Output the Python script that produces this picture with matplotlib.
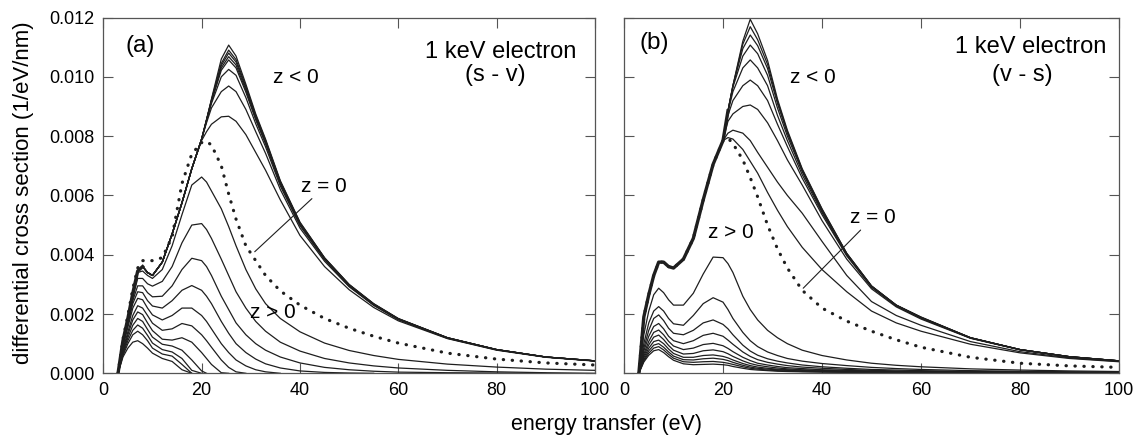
import numpy as np
import matplotlib
matplotlib.use('Agg')
import matplotlib.pyplot as plt
from matplotlib.ticker import FormatStrFormatter

plt.rcParams['font.family'] = ['Liberation Sans', 'DejaVu Sans']

# energy grid shared by all curves (eV)
energy_ev = [3, 4, 5, 6, 7, 8, 9, 10, 12, 14, 16, 18, 20, 21, 22, 24, 25.5,
             27, 29, 31, 33, 36, 40, 45, 50, 55, 60, 70, 80, 90, 100]

# cross sections below are in units of 1e-3 1/eV/nm
# (a) s - v, z < 0 family (top to bottom)
sv_z_neg = [
    [0, 1.1, 1.85, 2.7, 3.45, 3.6, 3.4, 3.3, 3.75, 4.7, 5.75, 6.9, 7.9, 8.55, 9.25, 10.6, 11.07, 10.7, 9.75, 8.75, 7.9, 6.5, 5.1, 3.9, 3.0, 2.35, 1.85, 1.2, 0.8, 0.55, 0.42],
    [0, 1.1, 1.85, 2.7, 3.45, 3.6, 3.4, 3.3, 3.75, 4.7, 5.75, 6.9, 7.9, 8.55, 9.22, 10.45, 10.9, 10.58, 9.68, 8.7, 7.86, 6.47, 5.08, 3.89, 2.99, 2.34, 1.84, 1.2, 0.8, 0.55, 0.42],
    [0, 1.1, 1.85, 2.7, 3.45, 3.6, 3.4, 3.3, 3.75, 4.7, 5.75, 6.9, 7.9, 8.55, 9.2, 10.38, 10.8, 10.5, 9.62, 8.66, 7.83, 6.45, 5.06, 3.88, 2.98, 2.33, 1.84, 1.2, 0.8, 0.55, 0.42],
    [0, 1.1, 1.85, 2.7, 3.45, 3.6, 3.4, 3.3, 3.75, 4.7, 5.75, 6.9, 7.9, 8.55, 9.18, 10.3, 10.68, 10.4, 9.55, 8.6, 7.78, 6.42, 5.04, 3.87, 2.97, 2.33, 1.83, 1.2, 0.8, 0.55, 0.42],
    [0, 1.1, 1.85, 2.7, 3.45, 3.6, 3.4, 3.3, 3.75, 4.7, 5.75, 6.9, 7.9, 8.53, 9.16, 10.22, 10.57, 10.3, 9.48, 8.55, 7.74, 6.38, 5.02, 3.86, 2.96, 2.32, 1.83, 1.19, 0.8, 0.55, 0.42],
    [0, 1.1, 1.85, 2.7, 3.45, 3.6, 3.4, 3.3, 3.75, 4.7, 5.75, 6.9, 7.9, 8.5, 9.1, 10.0, 10.25, 10.05, 9.3, 8.42, 7.64, 6.32, 4.98, 3.83, 2.94, 2.3, 1.82, 1.19, 0.8, 0.55, 0.42],
    [0, 1.1, 1.85, 2.7, 3.45, 3.6, 3.4, 3.3, 3.75, 4.7, 5.75, 6.9, 7.9, 8.45, 8.95, 9.5, 9.69, 9.5, 8.9, 8.15, 7.42, 6.2, 4.9, 3.78, 2.92, 2.29, 1.81, 1.18, 0.79, 0.55, 0.42],
    [0, 1.1, 1.85, 2.7, 3.45, 3.6, 3.4, 3.3, 3.75, 4.7, 5.75, 6.9, 7.85, 8.15, 8.4, 8.65, 8.67, 8.5, 8.05, 7.45, 6.85, 5.85, 4.65, 3.6, 2.82, 2.22, 1.77, 1.17, 0.78, 0.54, 0.41],
]
sv_z0 = [0, 1.15, 1.95, 2.85, 3.55, 3.8, 3.8, 3.8, 3.9, 4.6, 6.4, 7.4, 7.78, 7.82, 7.7, 7.0, 6.05, 5.2, 4.3, 3.8, 3.3, 2.78, 2.3, 1.85, 1.52, 1.25, 1.02, 0.68, 0.48, 0.35, 0.28]
sv_z_pos = [
    [0, 1.1, 1.85, 2.65, 3.4, 3.45, 3.3, 3.2, 3.5, 4.3, 5.35, 6.35, 6.62, 6.45, 6.15, 5.55, 4.95, 4.3, 3.5, 2.85, 2.35, 1.85, 1.4, 1.02, 0.77, 0.6, 0.47, 0.31, 0.21, 0.14, 0.1],
    [0, 1.05, 1.8, 2.55, 3.2, 3.2, 3.02, 2.94, 3.1, 3.6, 4.4, 5.0, 5.05, 4.85, 4.55, 3.85, 3.3, 2.75, 2.2, 1.75, 1.42, 1.05, 0.75, 0.5, 0.35, 0.25, 0.18, 0.1, 0.05, 0.02, 0],
    [0, 1.0, 1.72, 2.45, 2.95, 2.95, 2.72, 2.58, 2.6, 2.95, 3.5, 3.88, 3.8, 3.6, 3.3, 2.6, 2.15, 1.7, 1.3, 1.0, 0.78, 0.55, 0.35, 0.2, 0.12, 0.07, 0.04, 0.02, 0.01, 0],
    [0, 0.95, 1.65, 2.35, 2.75, 2.72, 2.45, 2.27, 2.2, 2.45, 2.8, 2.96, 2.8, 2.6, 2.35, 1.75, 1.35, 1.0, 0.7, 0.48, 0.32, 0.18, 0.08, 0.03, 0.01, 0],
    [0, 0.9, 1.55, 2.2, 2.53, 2.48, 2.2, 1.97, 1.8, 1.95, 2.2, 2.2, 1.95, 1.75, 1.5, 1.0, 0.7, 0.45, 0.25, 0.12, 0.05, 0],
    [0, 0.8, 1.4, 1.95, 2.28, 2.2, 1.95, 1.69, 1.45, 1.5, 1.68, 1.6, 1.3, 1.1, 0.88, 0.45, 0.2, 0.05, 0],
    [0, 0.75, 1.3, 1.8, 2.07, 1.98, 1.7, 1.44, 1.15, 1.12, 1.2, 1.05, 0.7, 0.5, 0.3, 0.02, 0],
    [0, 0.7, 1.2, 1.62, 1.85, 1.75, 1.48, 1.22, 0.98, 0.92, 0.78, 0.45, 0.08, 0],
    [0, 0.65, 1.1, 1.45, 1.63, 1.52, 1.28, 1.02, 0.8, 0.72, 0.5, 0.1, 0],
    [0, 0.6, 1.0, 1.3, 1.42, 1.3, 1.1, 0.85, 0.65, 0.58, 0.3, 0],
    [0, 0.55, 0.85, 1.05, 1.1, 1.0, 0.85, 0.68, 0.5, 0.4, 0.12, 0],
]

# (b) v - s
vs_z_neg = [
    [0, 1.9, 2.65, 3.3, 3.75, 3.75, 3.6, 3.55, 3.85, 4.55, 5.85, 7.05, 7.85, 8.85, 9.7, 11.2, 11.94, 11.45, 10.55, 9.25, 8.2, 6.9, 5.55, 4.05, 2.95, 2.3, 1.9, 1.2, 0.8, 0.56, 0.42],
    [0, 1.9, 2.65, 3.3, 3.75, 3.75, 3.6, 3.55, 3.85, 4.55, 5.85, 7.05, 7.85, 8.85, 9.7, 11.1, 11.69, 11.25, 10.42, 9.18, 8.15, 6.87, 5.53, 4.04, 2.94, 2.3, 1.89, 1.2, 0.8, 0.56, 0.42],
    [0, 1.9, 2.65, 3.3, 3.75, 3.75, 3.6, 3.55, 3.85, 4.55, 5.85, 7.05, 7.85, 8.85, 9.7, 10.95, 11.41, 11.05, 10.28, 9.1, 8.1, 6.84, 5.5, 4.03, 2.94, 2.3, 1.88, 1.2, 0.8, 0.56, 0.42],
    [0, 1.9, 2.65, 3.3, 3.75, 3.75, 3.6, 3.55, 3.85, 4.55, 5.85, 7.05, 7.85, 8.85, 9.65, 10.7, 11.07, 10.78, 10.05, 8.95, 8.0, 6.8, 5.47, 4.01, 2.93, 2.29, 1.88, 1.2, 0.8, 0.56, 0.42],
    [0, 1.9, 2.65, 3.3, 3.75, 3.75, 3.6, 3.55, 3.85, 4.55, 5.85, 7.05, 7.85, 8.8, 9.5, 10.3, 10.57, 10.3, 9.7, 8.7, 7.85, 6.7, 5.42, 3.99, 2.92, 2.28, 1.87, 1.19, 0.8, 0.56, 0.42],
    [0, 1.9, 2.65, 3.3, 3.75, 3.75, 3.6, 3.55, 3.85, 4.55, 5.85, 7.05, 7.85, 8.7, 9.2, 9.7, 9.89, 9.7, 9.2, 8.4, 7.65, 6.58, 5.35, 3.96, 2.9, 2.27, 1.86, 1.19, 0.8, 0.56, 0.42],
    [0, 1.9, 2.65, 3.3, 3.75, 3.75, 3.6, 3.55, 3.85, 4.55, 5.85, 7.05, 7.85, 8.5, 8.75, 9.0, 9.05, 8.9, 8.45, 7.85, 7.2, 6.35, 5.15, 3.85, 2.85, 2.24, 1.83, 1.18, 0.79, 0.55, 0.42],
    [0, 1.9, 2.65, 3.3, 3.75, 3.75, 3.6, 3.55, 3.85, 4.55, 5.85, 7.05, 7.85, 8.1, 8.2, 8.1, 7.85, 7.45, 6.95, 6.45, 6.0, 5.4, 4.45, 3.3, 2.42, 1.95, 1.62, 1.07, 0.73, 0.52, 0.4],
    [0, 1.9, 2.65, 3.3, 3.75, 3.75, 3.6, 3.55, 3.85, 4.55, 5.85, 7.05, 7.85, 7.95, 7.9, 7.55, 7.15, 6.75, 6.1, 5.5, 4.95, 4.25, 3.5, 2.75, 2.1, 1.7, 1.42, 0.98, 0.69, 0.5, 0.39],
]
vs_z0 = [0, 1.9, 2.65, 3.3, 3.75, 3.75, 3.6, 3.55, 3.85, 4.55, 5.85, 7.05, 7.85, 7.93, 7.75, 7.2, 6.6, 5.95, 5.0, 4.2, 3.55, 2.8, 2.2, 1.76, 1.42, 1.13, 0.88, 0.54, 0.34, 0.25, 0.2]
vs_z_pos = [
    [0, 1.3, 2.1, 2.65, 2.87, 2.72, 2.48, 2.3, 2.3, 2.7, 3.35, 3.92, 3.9, 3.7, 3.4, 2.6, 2.15, 1.8, 1.45, 1.2, 1.0, 0.78, 0.6, 0.45, 0.34, 0.27, 0.22, 0.15, 0.11, 0.08, 0.06],
    [0, 1.0, 1.7, 2.1, 2.25, 2.1, 1.85, 1.67, 1.62, 1.95, 2.35, 2.55, 2.4, 2.15, 1.85, 1.38, 1.1, 0.9, 0.72, 0.6, 0.5, 0.41, 0.33, 0.26, 0.2, 0.16, 0.13, 0.09, 0.07, 0.05, 0.04],
    [0, 0.85, 1.45, 1.85, 1.97, 1.78, 1.52, 1.35, 1.3, 1.45, 1.7, 1.8, 1.65, 1.5, 1.3, 0.95, 0.75, 0.61, 0.49, 0.41, 0.35, 0.28, 0.22, 0.17, 0.13, 0.11, 0.09, 0.06, 0.05, 0.04, 0.03],
    [0, 0.75, 1.25, 1.58, 1.68, 1.5, 1.25, 1.1, 1.0, 1.1, 1.28, 1.35, 1.25, 1.12, 0.98, 0.72, 0.57, 0.46, 0.37, 0.31, 0.26, 0.21, 0.17, 0.13, 0.1, 0.08, 0.07, 0.05, 0.04, 0.03, 0.02],
    [0, 0.65, 1.08, 1.38, 1.46, 1.3, 1.08, 0.92, 0.8, 0.85, 0.97, 1.01, 0.93, 0.84, 0.73, 0.54, 0.43, 0.34, 0.28, 0.23, 0.19, 0.16, 0.12, 0.1, 0.08, 0.06, 0.05, 0.04, 0.03, 0.02, 0.02],
    [0, 0.58, 0.96, 1.22, 1.29, 1.14, 0.94, 0.78, 0.65, 0.67, 0.76, 0.79, 0.73, 0.66, 0.57, 0.42, 0.33, 0.27, 0.22, 0.18, 0.15, 0.12, 0.1, 0.08, 0.06, 0.05, 0.04, 0.03, 0.02, 0.02, 0.01],
    [0, 0.52, 0.85, 1.07, 1.12, 1.0, 0.82, 0.67, 0.54, 0.54, 0.6, 0.62, 0.57, 0.52, 0.45, 0.33, 0.26, 0.21, 0.17, 0.14, 0.12, 0.1, 0.08, 0.06, 0.05, 0.04, 0.03, 0.02, 0.02, 0.01, 0.01],
    [0, 0.46, 0.76, 0.95, 1.0, 0.88, 0.72, 0.58, 0.46, 0.45, 0.49, 0.51, 0.47, 0.43, 0.37, 0.27, 0.21, 0.17, 0.14, 0.12, 0.1, 0.08, 0.06, 0.05, 0.04, 0.03, 0.03, 0.02, 0.01, 0.01, 0.01],
    [0, 0.42, 0.68, 0.85, 0.9, 0.79, 0.64, 0.51, 0.39, 0.37, 0.39, 0.4, 0.37, 0.34, 0.3, 0.22, 0.17, 0.14, 0.11, 0.09, 0.08, 0.06, 0.05, 0.04, 0.03, 0.02, 0.02, 0.01, 0.01, 0.01, 0.01],
    [0, 0.38, 0.61, 0.76, 0.8, 0.7, 0.56, 0.44, 0.32, 0.29, 0.3, 0.31, 0.29, 0.27, 0.23, 0.17, 0.13, 0.11, 0.09, 0.07, 0.06, 0.05, 0.04, 0.03, 0.02, 0.02, 0.01, 0.01, 0.01, 0.01, 0],
]

x_ticks = [0, 20, 40, 60, 80, 100]
y_ticks = [0.0, 0.002, 0.004, 0.006, 0.008, 0.010, 0.012]

LINE = '#1e1e1e'
FRAME = '#555555'


def draw_panel(ax, z_neg, z0, z_pos, edge_n):
    e = np.array(energy_ev)
    for v in z_pos + z_neg:
        ax.plot(e[:len(v)], np.array(v) * 1e-3, color=LINE, lw=0.9)
    # the crowded rising edge looks like a thick band
    ax.plot(e[:edge_n], np.array(z_neg[0][:edge_n]) * 1e-3, color=LINE, lw=2.4)
    ax.plot(e, np.array(z0) * 1e-3, color=LINE, lw=2.3,
            linestyle=(0, (0.1, 2.7)), dash_capstyle='round')

    ax.set_xlim(0, 100)
    ax.set_ylim(0, 0.012)
    ax.set_xticks(x_ticks)
    ax.set_yticks(y_ticks)
    ax.yaxis.set_major_formatter(FormatStrFormatter('%.3f'))
    ax.tick_params(direction='in', top=True, right=True, length=7, width=0.8,
                   color=FRAME, labelsize=13, pad=6.5)
    for s in ax.spines.values():
        s.set_color(FRAME)
        s.set_linewidth(0.9)


fig = plt.figure(figsize=(11.35, 4.38), dpi=100)
ax_a = fig.add_axes([0.0910, 0.1477, 0.4332, 0.8123])
ax_b = fig.add_axes([0.5498, 0.1477, 0.4361, 0.8123])

draw_panel(ax_a, sv_z_neg, sv_z0, sv_z_pos, 6)
draw_panel(ax_b, vs_z_neg, vs_z0, vs_z_pos, 14)
ax_b.tick_params(labelleft=False)

# panel (a) labels
ax_a.text(0.075, 0.903, '(a)', transform=ax_a.transAxes, fontsize=17.5,
          ha='center', va='baseline')
ax_a.text(0.963, 0.885, '1 keV electron', transform=ax_a.transAxes,
          fontsize=17, ha='right', va='baseline')
ax_a.text(0.798, 0.822, '(s - v)', transform=ax_a.transAxes, fontsize=17,
          ha='center', va='baseline')
ax_a.text(39.2, 0.00978, 'z < 0', fontsize=15, ha='center', va='baseline')
ax_a.text(34.5, 0.00185, 'z > 0', fontsize=15, ha='center', va='baseline')
ax_a.annotate('z = 0', xy=(30.8, 0.0041), xytext=(44.9, 0.00612),
              fontsize=15, ha='center', va='baseline',
              arrowprops=dict(arrowstyle='-', color=LINE, lw=0.8,
                              shrinkA=0, shrinkB=0, relpos=(0.3, 0.0)))

# panel (b) labels
ax_b.text(0.061, 0.911, '(b)', transform=ax_b.transAxes, fontsize=17.5,
          ha='center', va='baseline')
ax_b.text(0.975, 0.899, '1 keV electron', transform=ax_b.transAxes,
          fontsize=17, ha='right', va='baseline')
ax_b.text(0.805, 0.822, '(v - s)', transform=ax_b.transAxes, fontsize=17,
          ha='center', va='baseline')
ax_b.text(38.2, 0.00978, 'z < 0', fontsize=15, ha='center', va='baseline')
ax_b.text(21.6, 0.00455, 'z > 0', fontsize=15, ha='center', va='baseline')
ax_b.annotate('z = 0', xy=(36.2, 0.00287), xytext=(50.2, 0.00506),
              fontsize=15, ha='center', va='baseline',
              arrowprops=dict(arrowstyle='-', color=LINE, lw=0.8,
                              shrinkA=0, shrinkB=0, relpos=(0.3, 0.0)))

fig.text(0.534, 0.03, 'energy transfer (eV)', fontsize=15.5,
         ha='center', va='center')
fig.text(0.0203, 0.56, 'differential cross section (1/eV/nm)', fontsize=16,
         rotation=90, ha='center', va='center')

fig.savefig('out.png', dpi=100)
plt.close(fig)
